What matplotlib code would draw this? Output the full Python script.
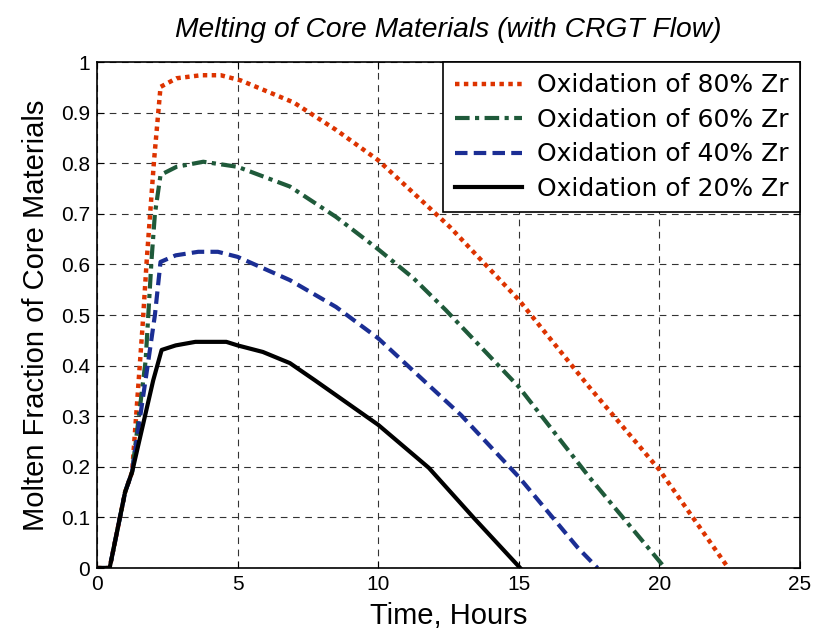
import matplotlib
matplotlib.use('Agg')
import matplotlib.pyplot as plt
from matplotlib.ticker import FixedLocator, FuncFormatter

# time (hours) / molten fraction
t80 = [0, 0.45, 1.0, 1.25, 1.62, 1.77, 2.03, 2.26, 2.83, 3.7, 4.4, 5.1, 7.0, 8.5,
       10, 11.8, 12.55, 15, 17.5, 20, 22.45]
y80 = [0, 0, 0.15, 0.19, 0.477, 0.609, 0.806, 0.951, 0.968, 0.974, 0.974, 0.964, 0.92, 0.866,
       0.806, 0.713, 0.674, 0.53, 0.358, 0.194, 0]

t60 = [0, 0.45, 1.0, 1.25, 1.73, 1.94, 2.06, 2.26, 2.83, 3.78, 5.0, 6.86, 8.5, 10,
       11.25, 12.4, 15, 17.5, 20.2]
y60 = [0, 0, 0.15, 0.19, 0.41, 0.609, 0.70, 0.777, 0.793, 0.803, 0.793, 0.754, 0.694, 0.63,
       0.573, 0.51, 0.358, 0.18, 0]

t40 = [0, 0.45, 1.0, 1.25, 1.83, 2.06, 2.26, 2.8, 3.6, 4.3, 5.0, 6.86, 8.5, 10,
       12.95, 15, 17.1, 17.8]
y40 = [0, 0, 0.15, 0.19, 0.411, 0.5, 0.605, 0.618, 0.625, 0.625, 0.615, 0.569, 0.516, 0.454,
       0.302, 0.18, 0.04, 0]

t20 = [0, 0.45, 1.0, 1.25, 2.0, 2.3, 2.8, 3.5, 4.6, 5.0, 5.9, 6.86, 7.75, 10,
       11.8, 13.4, 15.05]
y20 = [0, 0, 0.15, 0.19, 0.371, 0.431, 0.44, 0.447, 0.447, 0.44, 0.427, 0.405, 0.371, 0.283,
       0.198, 0.099, 0]

labels = ['Oxidation of 80% Zr', 'Oxidation of 60% Zr',
          'Oxidation of 40% Zr', 'Oxidation of 20% Zr']
xticks = [0, 5, 10, 15, 20, 25]
yticks = [0, 0.1, 0.2, 0.3, 0.4, 0.5, 0.6, 0.7, 0.8, 0.9, 1.0]

fam = ['Liberation Sans', 'DejaVu Sans']

fig = plt.figure(figsize=(8.17, 6.4), dpi=100)
ax = fig.add_axes([0.1187, 0.1125, 0.8605, 0.7905])

ax.plot(t80, y80, color='#dd3300', lw=3.2, ls=(0, (1, 1)), label=labels[0])
ax.plot(t60, y60, color='#1f5a3a', lw=3.0, ls=(0, (3.5, 1.3, 1, 1.3)), label=labels[1])
ax.plot(t40, y40, color='#1b2e94', lw=3.0, ls=(0, (3, 1.5)), label=labels[2])
ax.plot(t20, y20, color='black', lw=3.0, ls='-', label=labels[3])

ax.set_xlim(0, 25)
ax.set_ylim(0, 1)
ax.xaxis.set_major_locator(FixedLocator(xticks))
ax.yaxis.set_major_locator(FixedLocator(yticks))
ax.yaxis.set_major_formatter(FuncFormatter(lambda v, p: f'{v:g}'))
ax.tick_params(direction='in', top=True, right=True, length=5, width=0.8, pad=5)
for lab in ax.get_xticklabels() + ax.get_yticklabels():
    lab.set_family(fam)
    lab.set_fontsize(15)
for s in ax.spines.values():
    s.set_linewidth(1.2)

ax.grid(True, color='0.2', ls=(0, (6, 5)), lw=0.8)

ax.set_xlabel('Time, Hours', family=fam, fontsize=21, labelpad=6)
ax.set_ylabel('Molten Fraction of Core Materials', family=fam, fontsize=21, labelpad=8)
ax.set_title('Melting of Core Materials (with CRGT Flow)', family=fam,
             style='italic', fontsize=20.3, pad=18)

leg = ax.legend(loc='upper right', frameon=True, fancybox=False,
                edgecolor='black', framealpha=1, borderaxespad=0.0,
                handlelength=2.7, handletextpad=0.6, labelspacing=0.42,
                borderpad=0.45, prop={'family': 'DejaVu Sans', 'size': 18})
leg.get_frame().set_linewidth(1.2)

fig.savefig('out.png', dpi=100, facecolor='white')
